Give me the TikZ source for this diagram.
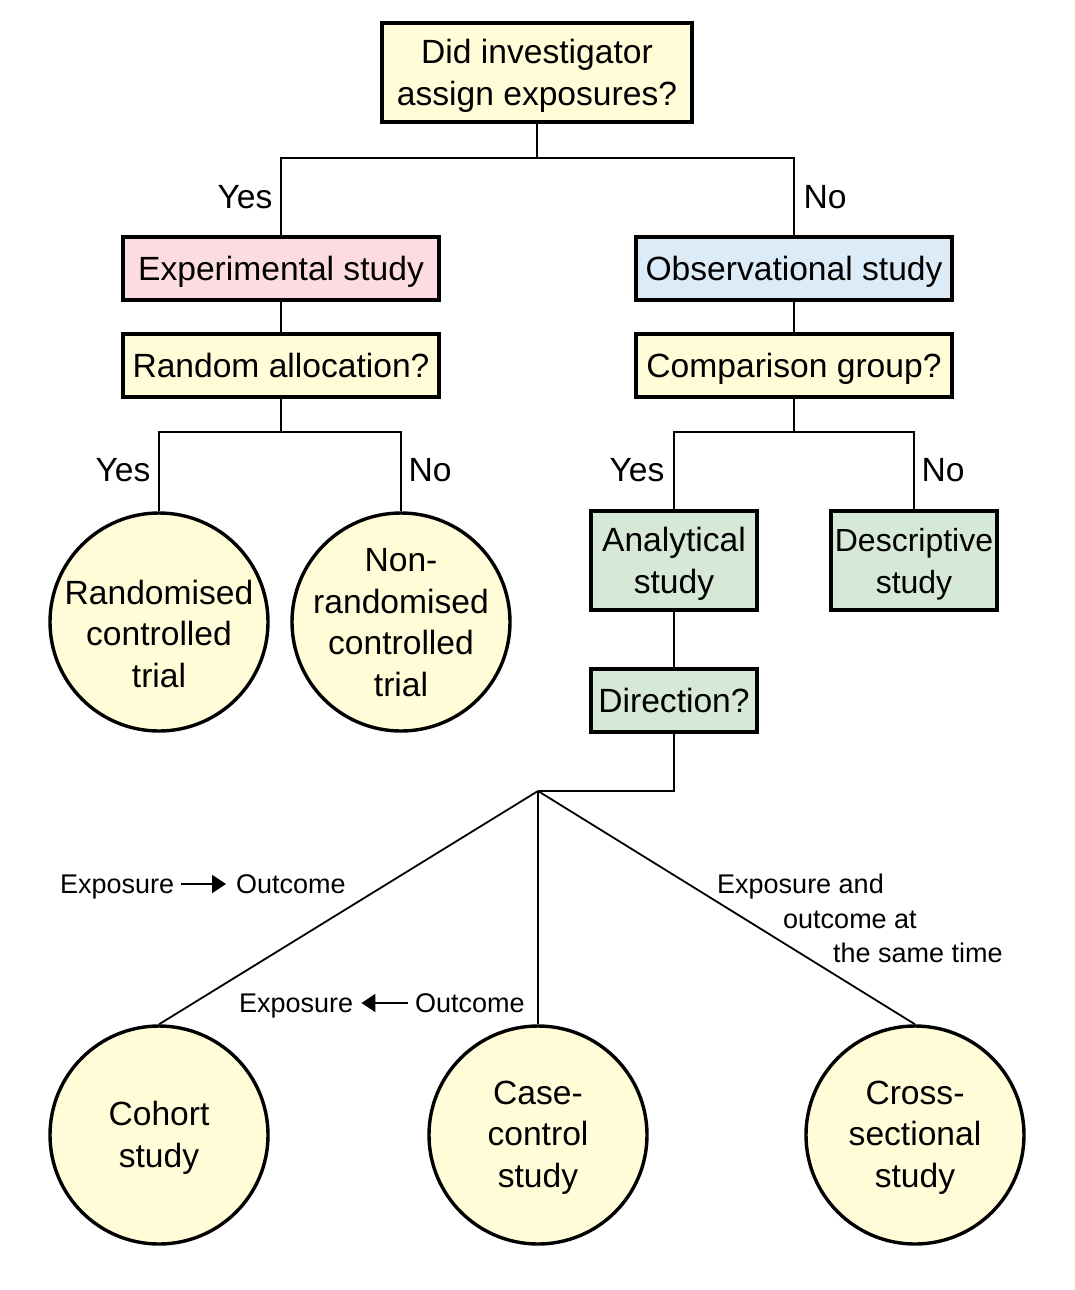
\documentclass[tikz,border=0pt]{standalone}
\usepackage{fontspec}
\setmainfont{Liberation Sans}
\usetikzlibrary{arrows.meta}
\definecolor{cyell}{HTML}{FFFCD7}
\definecolor{cpink}{HTML}{FCDCE1}
\definecolor{cblue}{HTML}{DCEBF8}
\definecolor{cgreen}{HTML}{D6E8D6}
\newcommand{\bigtxt}{\fontsize{33.6}{41.5}\selectfont}
\newcommand{\smalltxt}{\fontsize{27}{34}\selectfont}
\tikzset{
  box/.style={draw, line width=3.4pt, inner sep=0pt, align=center, font=\bigtxt},
  one/.style={text height=30pt, text depth=7pt},
  tb/.style={text height=#1, text depth=0pt},
  circ/.style={circle, draw, line width=3.4pt, fill=cyell, minimum size=218pt, inner sep=0pt},
  ctext/.style={font=\bigtxt, align=center, inner sep=0pt, tb=#1},
  conn/.style={line width=1.8pt},
  lbl/.style={font=\bigtxt, inner sep=0pt},
  slbl/.style={font=\smalltxt, inner sep=0pt, text height=22pt, text depth=4pt},
  arr/.style={line width=2pt, -{Triangle[length=14pt,width=18pt]}}
}
\begin{document}
\begin{tikzpicture}[x=1pt,y=-1pt]
\path[use as bounding box, fill=white] (0,0) rectangle (1075,1290);
% boxes
\node[box, tb=65pt, fill=cyell, minimum width=310pt, minimum height=99pt] (q1) at (537,72.5) {Did investigator\\assign exposures?};
\node[box, one, fill=cpink, minimum width=316pt, minimum height=63pt] (exp) at (281,268.5) {Experimental study};
\node[box, one, fill=cblue, minimum width=316pt, minimum height=63pt] (obs) at (794,268.5) {Observational study};
\node[box, one, fill=cyell, minimum width=316pt, minimum height=63pt] (ra) at (281,365.5) {Random allocation?};
\node[box, one, fill=cyell, minimum width=316pt, minimum height=63pt] (cg) at (794,365.5) {Comparison group?};
\node[box, tb=65pt, fill=cgreen, minimum width=166pt, minimum height=99pt] (an) at (674,560.5) {Analytical\\study};
\node[box, tb=65pt, fill=cgreen, minimum width=166pt, minimum height=99pt, font=\fontsize{32}{41.5}\selectfont] (de) at (914,560.5) {Descriptive\\study};
\node[box, one, fill=cgreen, minimum width=166pt, minimum height=63pt] (dir) at (674,700.5) {Direction?};
% circles
\node[circ, label={[ctext=130pt]center:Randomised\\controlled\\trial}] (rct) at (159,622) {};
\node[circ, label={[ctext=148pt]center:Non-\\randomised\\controlled\\trial}] (nrct) at (401,622) {};
\node[circ, label={[ctext=64pt]center:Cohort\\study}] (coh) at (159,1135) {};
\node[circ, label={[ctext=104pt]center:Case-\\control\\study}] (cc) at (538,1135) {};
\node[circ, label={[ctext=104pt]center:Cross-\\sectional\\study}] (cs) at (915,1135) {};
% junctions
\coordinate (j1) at (537,158);
\coordinate (j2) at (281,432);
\coordinate (j3) at (794,432);
\coordinate (hub) at (538,791);
% connectors
\draw[conn] (q1.south) -- (j1);
\draw[conn] (exp.north) |- (j1) -| (obs.north);
\draw[conn] (exp.south) -- (ra.north);
\draw[conn] (obs.south) -- (cg.north);
\draw[conn] (ra.south) -- (j2);
\draw[conn] (rct.north) |- (j2) -| (nrct.north);
\draw[conn] (cg.south) -- (j3);
\draw[conn] (an.north) |- (j3) -| (de.north);
\draw[conn] (an.south) -- (dir.north);
\draw[conn] (dir.south) |- (hub);
\draw[conn] (hub) -- (coh.north);
\draw[conn] (hub) -- (cc.north);
\draw[conn] (hub) -- (cs.north);
% yes/no labels
\node[lbl] (y1) at (245,197) {Yes};
\node[lbl] (n1) at (825,197) {No};
\node[lbl] (y2) at (123,470) {Yes};
\node[lbl] (n2) at (430,470) {No};
\node[lbl] (y3) at (637,470) {Yes};
\node[lbl] (n3) at (943,470) {No};
% direction labels
\node[slbl, anchor=base west] (e1) at (60,893) {Exposure};
\node[slbl, anchor=base west] (o1) at (236,893) {Outcome};
\draw[arr] ([xshift=7pt]e1.east) -- ([xshift=-10pt]o1.west);
\node[slbl, anchor=base west] (e2) at (239,1012) {Exposure};
\node[slbl, anchor=base west] (o2) at (415,1012) {Outcome};
\draw[arr] ([xshift=-7pt]o2.west) -- ([xshift=8pt]e2.east);
\node[slbl, anchor=base west] (t1) at (717,893) {Exposure and};
\node[slbl, anchor=base west] (t2) at (783,928) {outcome at};
\node[slbl, anchor=base west] (t3) at (833,962) {the same time};
\end{tikzpicture}
\end{document}
